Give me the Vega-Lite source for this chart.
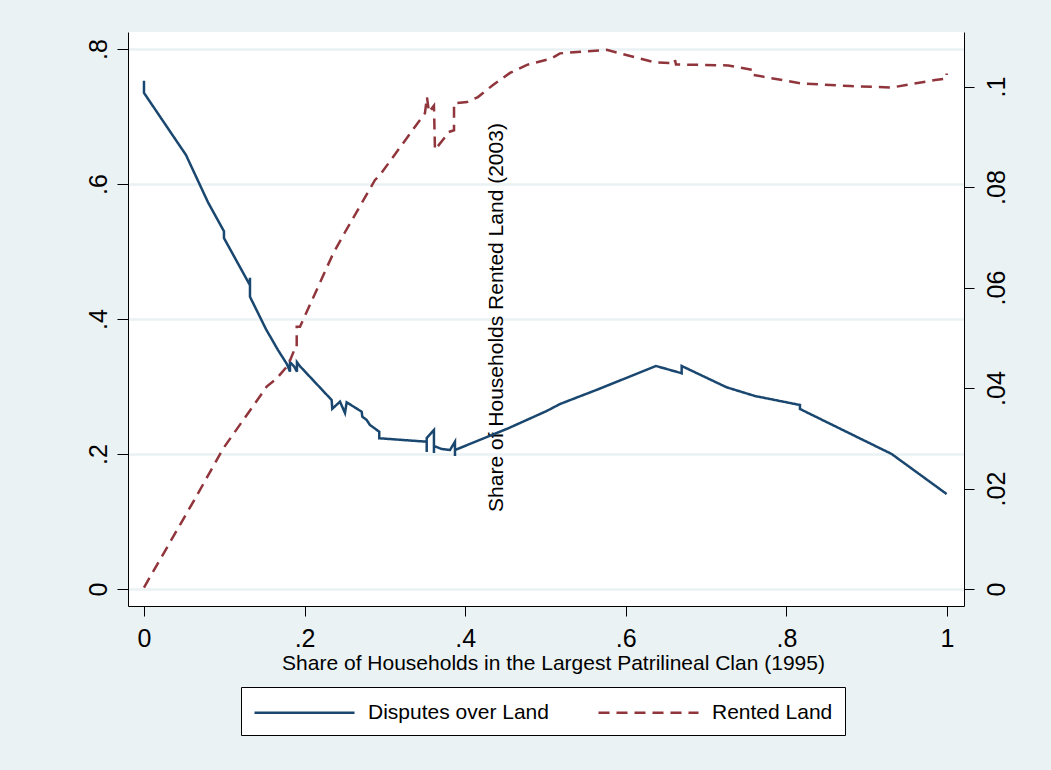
{
  "$schema": "https://vega.github.io/schema/vega-lite/v6.json",
  "width": 836,
  "height": 574,
  "autosize": {"type": "none"},
  "padding": {"left": 128, "top": 32, "right": 87, "bottom": 164},
  "background": "#EAF2F3",
  "config": {
    "view": {"fill": "white", "stroke": null},
    "font": "Liberation Sans",
    "axis": {
      "labelFont": "Liberation Sans",
      "labelFontSize": 25,
      "labelColor": "black",
      "titleFont": "Liberation Sans",
      "titleFontSize": 21,
      "titleFontWeight": "normal",
      "titleColor": "black",
      "domainColor": "black",
      "tickColor": "black",
      "domainWidth": 1,
      "tickWidth": 1,
      "labelOverlap": false,
      "labelFlush": false,
      "grid": false
    },
    "legend": {
      "labelFont": "Liberation Sans",
      "labelFontSize": 21,
      "labelColor": "black"
    }
  },
  "data": {
    "values": [
      {"series": "Disputes over Land", "x": 0, "y": 0.753},
      {"series": "Disputes over Land", "x": 0, "y": 0.735},
      {"series": "Disputes over Land", "x": 0.0523, "y": 0.643},
      {"series": "Disputes over Land", "x": 0.0797, "y": 0.573},
      {"series": "Disputes over Land", "x": 0.0996, "y": 0.530},
      {"series": "Disputes over Land", "x": 0.0996, "y": 0.520},
      {"series": "Disputes over Land", "x": 0.132, "y": 0.450},
      {"series": "Disputes over Land", "x": 0.132, "y": 0.461},
      {"series": "Disputes over Land", "x": 0.132, "y": 0.433},
      {"series": "Disputes over Land", "x": 0.1519, "y": 0.385},
      {"series": "Disputes over Land", "x": 0.1669, "y": 0.354},
      {"series": "Disputes over Land", "x": 0.1781, "y": 0.333},
      {"series": "Disputes over Land", "x": 0.1818, "y": 0.322},
      {"series": "Disputes over Land", "x": 0.1818, "y": 0.336},
      {"series": "Disputes over Land", "x": 0.1868, "y": 0.330},
      {"series": "Disputes over Land", "x": 0.1905, "y": 0.322},
      {"series": "Disputes over Land", "x": 0.1905, "y": 0.336},
      {"series": "Disputes over Land", "x": 0.1943, "y": 0.330},
      {"series": "Disputes over Land", "x": 0.2337, "y": 0.280},
      {"series": "Disputes over Land", "x": 0.2345, "y": 0.267},
      {"series": "Disputes over Land", "x": 0.2441, "y": 0.2775},
      {"series": "Disputes over Land", "x": 0.2503, "y": 0.2607},
      {"series": "Disputes over Land", "x": 0.2524, "y": 0.2766},
      {"series": "Disputes over Land", "x": 0.2711, "y": 0.2627},
      {"series": "Disputes over Land", "x": 0.2719, "y": 0.2553},
      {"series": "Disputes over Land", "x": 0.2773, "y": 0.2504},
      {"series": "Disputes over Land", "x": 0.2814, "y": 0.2430},
      {"series": "Disputes over Land", "x": 0.2930, "y": 0.2330},
      {"series": "Disputes over Land", "x": 0.2930, "y": 0.2233},
      {"series": "Disputes over Land", "x": 0.3521, "y": 0.2182},
      {"series": "Disputes over Land", "x": 0.3521, "y": 0.2030},
      {"series": "Disputes over Land", "x": 0.3521, "y": 0.2237},
      {"series": "Disputes over Land", "x": 0.3611, "y": 0.2356},
      {"series": "Disputes over Land", "x": 0.3611, "y": 0.2015},
      {"series": "Disputes over Land", "x": 0.3611, "y": 0.2119},
      {"series": "Disputes over Land", "x": 0.3707, "y": 0.2074},
      {"series": "Disputes over Land", "x": 0.3811, "y": 0.2059},
      {"series": "Disputes over Land", "x": 0.3873, "y": 0.2182},
      {"series": "Disputes over Land", "x": 0.3873, "y": 0.1970},
      {"series": "Disputes over Land", "x": 0.3873, "y": 0.2059},
      {"series": "Disputes over Land", "x": 0.4537, "y": 0.2381},
      {"series": "Disputes over Land", "x": 0.5015, "y": 0.2637},
      {"series": "Disputes over Land", "x": 0.5180, "y": 0.2740},
      {"series": "Disputes over Land", "x": 0.5680, "y": 0.2970},
      {"series": "Disputes over Land", "x": 0.6376, "y": 0.3304},
      {"series": "Disputes over Land", "x": 0.6696, "y": 0.3196},
      {"series": "Disputes over Land", "x": 0.6696, "y": 0.3304},
      {"series": "Disputes over Land", "x": 0.7256, "y": 0.2988},
      {"series": "Disputes over Land", "x": 0.7609, "y": 0.2859},
      {"series": "Disputes over Land", "x": 0.8169, "y": 0.2726},
      {"series": "Disputes over Land", "x": 0.8169, "y": 0.2667},
      {"series": "Disputes over Land", "x": 0.9311, "y": 0.2000},
      {"series": "Disputes over Land", "x": 0.9996, "y": 0.1407},
      {"series": "Rented Land", "x": 0, "y": 0.0003},
      {"series": "Rented Land", "x": 0.0626, "y": 0.0177},
      {"series": "Rented Land", "x": 0.0988, "y": 0.0280},
      {"series": "Rented Land", "x": 0.1486, "y": 0.0393},
      {"series": "Rented Land", "x": 0.1528, "y": 0.0403},
      {"series": "Rented Land", "x": 0.1653, "y": 0.0419},
      {"series": "Rented Land", "x": 0.1797, "y": 0.0446},
      {"series": "Rented Land", "x": 0.1880, "y": 0.0479},
      {"series": "Rented Land", "x": 0.1902, "y": 0.0479},
      {"series": "Rented Land", "x": 0.1902, "y": 0.0522},
      {"series": "Rented Land", "x": 0.1943, "y": 0.0522},
      {"series": "Rented Land", "x": 0.2357, "y": 0.0668},
      {"series": "Rented Land", "x": 0.2503, "y": 0.0710},
      {"series": "Rented Land", "x": 0.2877, "y": 0.0814},
      {"series": "Rented Land", "x": 0.2939, "y": 0.0824},
      {"series": "Rented Land", "x": 0.3499, "y": 0.0947},
      {"series": "Rented Land", "x": 0.3524, "y": 0.0979},
      {"series": "Rented Land", "x": 0.3549, "y": 0.0949},
      {"series": "Rented Land", "x": 0.3611, "y": 0.0962},
      {"series": "Rented Land", "x": 0.3624, "y": 0.0874},
      {"series": "Rented Land", "x": 0.3748, "y": 0.0899},
      {"series": "Rented Land", "x": 0.3786, "y": 0.0909},
      {"series": "Rented Land", "x": 0.3861, "y": 0.0913},
      {"series": "Rented Land", "x": 0.3861, "y": 0.0967},
      {"series": "Rented Land", "x": 0.3898, "y": 0.0967},
      {"series": "Rented Land", "x": 0.4022, "y": 0.0969},
      {"series": "Rented Land", "x": 0.4159, "y": 0.0979},
      {"series": "Rented Land", "x": 0.4346, "y": 0.1003},
      {"series": "Rented Land", "x": 0.4558, "y": 0.1027},
      {"series": "Rented Land", "x": 0.4770, "y": 0.1043},
      {"series": "Rented Land", "x": 0.5077, "y": 0.1056},
      {"series": "Rented Land", "x": 0.5181, "y": 0.1066},
      {"series": "Rented Land", "x": 0.5762, "y": 0.1073},
      {"series": "Rented Land", "x": 0.6364, "y": 0.1048},
      {"series": "Rented Land", "x": 0.6613, "y": 0.1046},
      {"series": "Rented Land", "x": 0.6613, "y": 0.1053},
      {"series": "Rented Land", "x": 0.6625, "y": 0.1044},
      {"series": "Rented Land", "x": 0.7277, "y": 0.1042},
      {"series": "Rented Land", "x": 0.7588, "y": 0.1033},
      {"series": "Rented Land", "x": 0.7588, "y": 0.1023},
      {"series": "Rented Land", "x": 0.8190, "y": 0.1006},
      {"series": "Rented Land", "x": 0.8792, "y": 0.1001},
      {"series": "Rented Land", "x": 0.9311, "y": 0.0998},
      {"series": "Rented Land", "x": 0.9851, "y": 0.1013},
      {"series": "Rented Land", "x": 0.9996, "y": 0.1016},
      {"series": "Rented Land", "x": 0.9996, "y": 0.1026}
    ]
  },
  "encoding": {
    "x": {
      "field": "x",
      "type": "quantitative",
      "scale": {"domain": [-0.0199, 1.0212], "nice": false, "zero": false},
      "axis": {
        "values": [0, 0.2, 0.4, 0.6, 0.8, 1],
        "labelExpr": "datum.value > 0 && datum.value < 1 ? slice(format(datum.value, '.2~f'), 1) : format(datum.value, 'd')",
        "tickSize": 10,
        "labelPadding": 10,
        "labelBaseline": "top",
        "labelAlign": "center",
        "title": "Share of Households in the Largest Patrilineal Clan (1995)",
        "titleX": 425,
        "titleY": 63,
        "titleAlign": "center",
        "titleBaseline": "alphabetic",
        "titleAnchor": null
      }
    },
    "color": {
      "field": "series",
      "type": "nominal",
      "scale": {"domain": ["Disputes over Land", "Rented Land"], "range": ["#1A476F", "#90353B"]},
      "legend": {
        "title": null,
        "orient": "none",
        "legendX": 113,
        "legendY": 655,
        "direction": "horizontal",
        "columns": 2,
        "strokeColor": "black",
        "fillColor": "white",
        "padding": 12,
        "symbolType": "M-4.1667,0H4.1667",
        "symbolSize": 576,
        "symbolStrokeWidth": 2.5,
        "symbolOffset": 38,
        "labelOffset": 50,
        "columnPadding": 44,
        "labelLimit": 400
      }
    },
    "strokeDash": {
      "field": "series",
      "type": "nominal",
      "scale": {"domain": ["Disputes over Land", "Rented Land"], "range": [[1, 0], [11, 7]]},
      "legend": {
        "title": null,
        "orient": "none",
        "legendX": 113,
        "legendY": 655,
        "direction": "horizontal",
        "columns": 2,
        "strokeColor": "black",
        "fillColor": "white",
        "padding": 12,
        "symbolType": "M-4.1667,0H4.1667",
        "symbolSize": 576,
        "symbolStrokeWidth": 2.5,
        "symbolOffset": 38,
        "labelOffset": 50,
        "columnPadding": 44,
        "labelLimit": 400
      }
    },
    "order": {"value": null}
  },
  "layer": [
    {
      "transform": [{"filter": "datum.series == 'Disputes over Land'"}],
      "mark": {"type": "line", "strokeWidth": 2.5},
      "encoding": {
        "y": {
          "field": "y",
          "type": "quantitative",
          "scale": {"domain": [-0.0252, 0.8252], "nice": false, "zero": false},
          "axis": {
            "orient": "left",
            "values": [0, 0.2, 0.4, 0.6, 0.8],
            "labelExpr": "datum.value > 0 && datum.value < 1 ? slice(format(datum.value, '.2~f'), 1) : format(datum.value, 'd')",
            "labelAngle": 270,
            "labelAlign": "center",
            "labelBaseline": "bottom",
            "labelPadding": 6,
            "tickSize": 11,
            "grid": true,
            "gridColor": "#EAF2F3",
            "gridWidth": 2.5,
            "title": null
          }
        }
      }
    },
    {
      "transform": [{"filter": "datum.series == 'Rented Land'"}],
      "mark": {"type": "line", "strokeWidth": 2.5},
      "encoding": {
        "y": {
          "field": "y",
          "type": "quantitative",
          "scale": {"domain": [-0.00338, 0.11085], "nice": false, "zero": false},
          "axis": {
            "orient": "right",
            "values": [0, 0.02, 0.04, 0.06, 0.08, 0.1],
            "labelExpr": "datum.value > 0 && datum.value < 1 ? slice(format(datum.value, '.2~f'), 1) : format(datum.value, 'd')",
            "labelAngle": 270,
            "labelAlign": "center",
            "labelBaseline": "top",
            "labelPadding": 10,
            "tickSize": 10,
            "grid": false,
            "title": "Share of Households Rented Land (2003)",
            "titleAngle": 270,
            "titleX": -468,
            "titleY": 285,
            "titleAlign": "center",
            "titleBaseline": "middle",
            "titleAnchor": null
          }
        }
      }
    }
  ],
  "resolve": {"scale": {"y": "independent"}}
}
